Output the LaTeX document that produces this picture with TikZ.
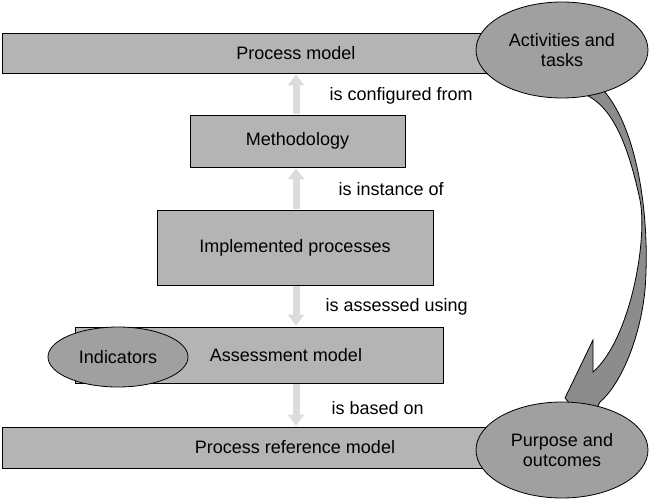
\documentclass[tikz,border=0pt]{standalone}
\usepackage{fontspec}
\setmainfont{Liberation Sans}
\usetikzlibrary{shapes.geometric, positioning, arrows.meta}
\definecolor{BoxGray}{HTML}{B4B4B4}
\definecolor{OvalGray}{HTML}{A0A0A0}
\definecolor{FlowGray}{HTML}{8C8C8C}
\definecolor{LinkGray}{HTML}{DCDCDC}
\begin{document}
\begin{tikzpicture}[x=1pt, y=-1pt,
    box/.style={draw, fill=BoxGray, thick, inner sep=0pt, font=\fontsize{18}{20}\selectfont},
    oval/.style={draw, fill=OvalGray, thick, ellipse, inner sep=0pt, align=center, font=\fontsize{18}{20}\selectfont},
    link/.style={-{Triangle[length=11pt, width=16pt]}, LinkGray, line width=7pt, shorten <=1pt, shorten >=1pt},
    lbl/.style={font=\fontsize{18}{20}\selectfont}]
  \useasboundingbox (0,0) rectangle (651,500);
  % bars and boxes
  \node[box, minimum width=498pt, minimum height=40pt] (pm) at (251,53) {\hspace*{90pt}Process model};
  \node[box, minimum width=215pt, minimum height=52pt] (meth) at (297.5,141) {Methodology};
  \node[box, minimum width=276pt, minimum height=75pt] (impl) at (295,247.5) {Implemented processes};
  \node[box, minimum width=368pt, minimum height=56pt] (am) at (259,355) {\hspace*{54pt}Assessment model};
  % curved flow arrow
  \draw[thick, fill=FlowGray] (566,70) .. controls (630,75) and (652,200) .. (645,290)
    .. controls (640,340) and (620,385) .. (600,402) -- (588,424) -- (565,398) -- (593,340)
    -- (593,372) .. controls (630,340) and (648,240) .. (640,200)
    .. controls (625,130) and (605,92) .. (566,90) -- cycle;
  \node[box, minimum width=488pt, minimum height=41pt] (prm) at (246,447.5) {\hspace*{98pt}Process reference model};
  % ovals
  \node[oval, minimum width=172pt, minimum height=96pt] (act) at (562,50) {Activities and\\tasks};
  \node[oval, minimum width=172pt, minimum height=96pt] (pur) at (562,450) {Purpose and\\outcomes};
  \node[oval, minimum width=140pt, minimum height=60pt] (ind) at (118,357) {Indicators};
  % relations
  \draw[link] (meth.north -| 296,0) -- (pm.south -| 296,0);
  \draw[link] (impl.north -| 296,0) -- (meth.south -| 296,0);
  \draw[link] (impl.south -| 296,0) -- (am.north -| 296,0);
  \draw[link] (am.south -| 296,0) -- (prm.north -| 296,0);
  \node[lbl, anchor=west] (cfg) at (326,96) {is configured from};
  \node[lbl, anchor=west] (inst) at (335,189) {is instance of};
  \node[lbl, anchor=west] (asu) at (322,307) {is assessed using};
  \node[lbl, anchor=west] (base) at (328,408) {is based on};
\end{tikzpicture}
\end{document}
